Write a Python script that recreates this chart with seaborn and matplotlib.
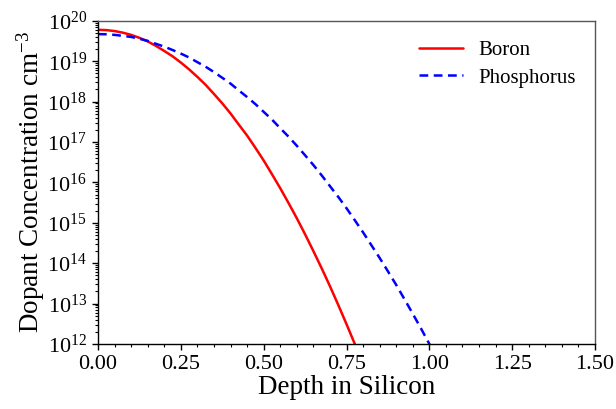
import numpy as np
import pandas as pd
import matplotlib
matplotlib.use("Agg")
import matplotlib.pyplot as plt
import matplotlib.ticker as mticker
import seaborn as sns

# Depth / concentration values
depth_boron = [0.000, 0.025, 0.050, 0.075, 0.100, 0.125, 0.150, 0.175, 0.200,
               0.225, 0.250, 0.275, 0.300, 0.325, 0.350, 0.375, 0.400, 0.425,
               0.450, 0.475, 0.500, 0.525, 0.550, 0.575, 0.600, 0.625, 0.650,
               0.675, 0.700, 0.725, 0.750, 0.775, 0.800]
conc_boron = [6.0e19, 5.9e19, 5.6e19, 5.1e19, 4.5e19, 3.8e19, 3.1e19, 2.4e19,
              1.8e19, 1.33e19, 9.3e18, 6.3e18, 4.1e18, 2.6e18, 1.55e18, 9.1e17,
              5.1e17, 2.7e17, 1.45e17, 7.2e16, 3.5e16, 1.6e16, 7.2e15, 3.1e15,
              1.3e15, 5.2e14, 2.0e14, 7.5e13, 2.7e13, 9.3e12, 3.1e12, 1.0e12,
              3.1e11]

depth_phos = [0.000, 0.025, 0.050, 0.075, 0.100, 0.125, 0.150, 0.175, 0.200,
              0.225, 0.250, 0.275, 0.300, 0.325, 0.350, 0.375, 0.400, 0.425,
              0.450, 0.475, 0.500, 0.525, 0.550, 0.575, 0.600, 0.625, 0.650,
              0.675, 0.700, 0.725, 0.750, 0.775, 0.800, 0.825, 0.850, 0.875,
              0.900, 0.925, 0.950, 0.975, 1.000, 1.050]
conc_phos = [4.7e19, 4.65e19, 4.5e19, 4.25e19, 4.0e19, 3.6e19, 3.2e19, 2.7e19,
             2.3e19, 1.9e19, 1.55e19, 1.24e19, 9.5e18, 7.3e18, 5.4e18, 3.9e18,
             2.8e18, 1.9e18, 1.3e18, 8.7e17, 5.6e17, 3.6e17, 2.2e17, 1.36e17,
             8.1e16, 4.7e16, 2.7e16, 1.5e16, 8.1e15, 4.4e15, 2.3e15, 1.16e15,
             5.8e14, 2.8e14, 1.35e14, 6.3e13, 2.9e13, 1.28e13, 5.6e12, 2.4e12,
             1.0e12, 1.6e11]

x_ticks = [0.00, 0.25, 0.50, 0.75, 1.00, 1.25, 1.50]

sns.set_style("ticks")
plt.rcParams['font.family'] = ['Liberation Serif', 'DejaVu Serif']
plt.rcParams['mathtext.fontset'] = 'custom'
plt.rcParams['mathtext.rm'] = 'Liberation Serif'
plt.rcParams['mathtext.it'] = 'Liberation Serif:italic'
plt.rcParams['mathtext.bf'] = 'Liberation Serif:bold'
plt.rcParams['text.color'] = 'black'
plt.rcParams['axes.labelcolor'] = 'black'
plt.rcParams['xtick.color'] = 'black'
plt.rcParams['ytick.color'] = 'black'

df_b = pd.DataFrame({"depth": depth_boron, "conc": conc_boron})
df_p = pd.DataFrame({"depth": depth_phos, "conc": conc_phos})

fig = plt.figure(figsize=(6.16, 4.09), dpi=100)
ax = fig.add_axes([0.159, 0.159, 0.807, 0.790])

sns.lineplot(data=df_b, x="depth", y="conc", ax=ax, color="red", lw=1.8,
             label="Boron", sort=False)
sns.lineplot(data=df_p, x="depth", y="conc", ax=ax, color="blue", lw=1.8,
             label="Phosphorus", sort=False, linestyle=(0, (3.5, 2.2)))

ax.set_yscale("log")
ax.set_xlim(0, 1.5)
ax.set_ylim(1e12, 1e20)
ax.set_xticks(x_ticks)
ax.xaxis.set_major_formatter(mticker.FormatStrFormatter("%.2f"))
ax.xaxis.set_minor_locator(mticker.MultipleLocator(0.05))
ax.yaxis.set_major_locator(mticker.LogLocator(base=10, numticks=20))
ax.yaxis.set_minor_locator(mticker.LogLocator(base=10, subs=np.arange(2, 10), numticks=20))
ax.yaxis.set_minor_formatter(mticker.NullFormatter())

ax.tick_params(axis="both", which="major", direction="out", length=4.5, width=1,
               labelsize=16, colors="black", top=False, right=False)
ax.tick_params(axis="both", which="minor", direction="out", length=2.5, width=0.8,
               top=False, right=False)

for s in ["left", "bottom"]:
    ax.spines[s].set_color("black")
    ax.spines[s].set_linewidth(1.0)
for s in ["top", "right"]:
    ax.spines[s].set_color("#555555")
    ax.spines[s].set_linewidth(1.0)

ax.set_xlabel("Depth in Silicon", fontsize=19.5, labelpad=1)
ax.set_ylabel(r"Dopant Concentration cm$^{-3}$", fontsize=19.5, labelpad=0)

leg = ax.legend(loc="upper right", frameon=False, fontsize=15,
                handlelength=2.1, handletextpad=0.75, labelspacing=0.4,
                borderaxespad=0, borderpad=0,
                bbox_to_anchor=(0.962, 0.94))

fig.savefig("out.png", dpi=100)
